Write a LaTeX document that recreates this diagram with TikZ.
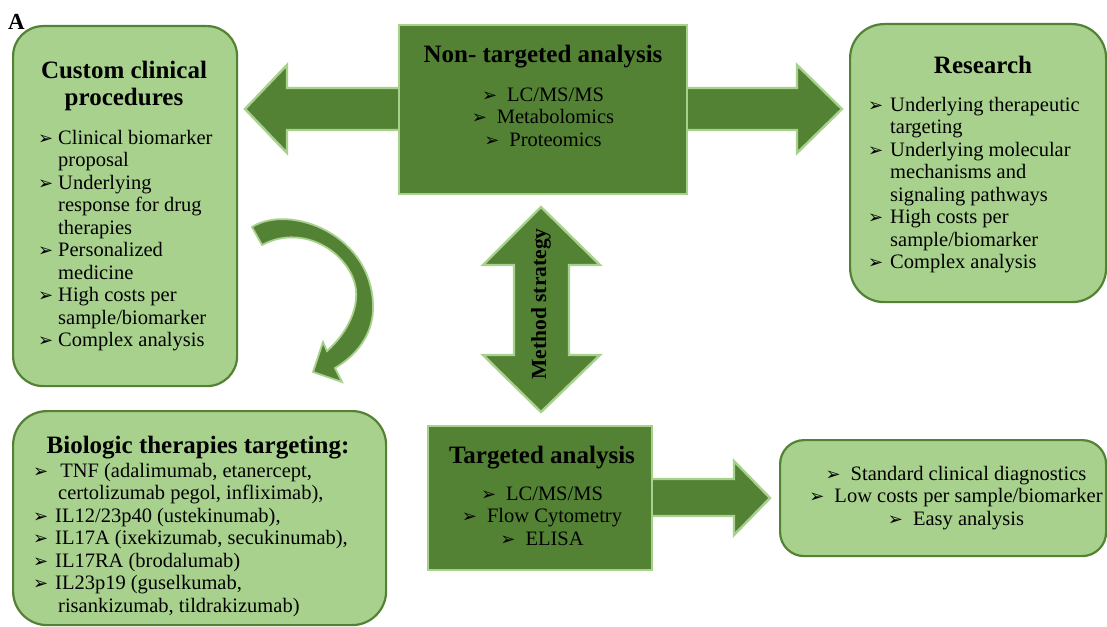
\documentclass[tikz,border=0pt]{standalone}
\usepackage{fontspec}
\setmainfont{Liberation Serif}
\newfontfamily\dejavu{DejaVu Sans}
\definecolor{lightg}{HTML}{A9D18E}
\definecolor{darkg}{HTML}{548235}
\newcommand\bul{{\dejavu\fontsize{18}{18}\selectfont ➢}}
\newcommand\bb[1]{\makebox[#1][l]{\bul}}
\tikzset{
  lightbox/.style={fill=lightg, draw=darkg, line width=2.2pt, rounded corners=30pt, inner sep=0pt, anchor=north west},
  darkbox/.style={fill=darkg, draw=lightg, line width=2.4pt, inner sep=0pt, anchor=north west},
  blockarrow/.style={fill=darkg, draw=lightg, line width=2.4pt, line join=miter},
  ttl/.style={font=\fontsize{25}{28}\selectfont\bfseries, inner sep=0pt, anchor=base},
  body/.style={font=\fontsize{20.5}{22.5}\selectfont, inner sep=0pt},
}
\begin{document}
\begin{tikzpicture}[x=1pt,y=-1pt]
\useasboundingbox (0,0) rectangle (1107,626);
\clip (0,0) rectangle (1107,626);
\fill[white] (0,0) rectangle (1107,626);

% block arrows behind boxes
\draw[blockarrow] (245,109) -- (287,65) -- (287,88) -- (797,88) -- (797,65) -- (842,109)
  -- (797,153) -- (797,130) -- (287,130) -- (287,153) -- cycle;
\draw[blockarrow] (640,479) -- (734,479) -- (734,461) -- (770,498) -- (734,535) -- (734,516) -- (640,516) -- cycle;

% boxes
\node[lightbox, minimum width=224pt, minimum height=360pt] (ccbox) at (12,25) {};
\node[darkbox, minimum width=288pt, minimum height=169pt] (ntbox) at (398,24) {};
\node[lightbox, minimum width=256pt, minimum height=278pt, rounded corners=34pt] (rsbox) at (849,23) {};
\node[lightbox, minimum width=373pt, minimum height=214pt, rounded corners=34pt] (bibox) at (12,410) {};
\node[darkbox, minimum width=224pt, minimum height=144pt] (tabox) at (427,425) {};
\node[lightbox, minimum width=326pt, minimum height=116pt, rounded corners=24pt] (sdbox) at (779,439) {};

% vertical double arrow
\draw[blockarrow] (541,207) -- (600,265) -- (569,265) -- (569,355) -- (600,355) -- (541,412)
  -- (483,355) -- (514,355) -- (514,265) -- (483,265) -- cycle;

% curved arrow
\draw[blockarrow, line width=1.8pt] (252,227) .. controls (290,203) and (375,235) .. (373,310)
  .. controls (372,335) and (357,355) .. (335,368) -- (342,382) -- (313,372) -- (323,342) -- (327,351)
  .. controls (345,335) and (358,312) .. (356,290)
  .. controls (352,255) and (305,222) .. (262,245) -- cycle;

% texts
\node[font=\fontsize{23}{23}\selectfont\bfseries, inner sep=0pt, anchor=base west] (lblA) at (8,30) {A};

\node[ttl] (cct1) at (124,78) {Custom clinical};
\node[ttl] (cct2) at (124,105) {procedures};
\node[body, anchor=base west] (ccl) at (38,144) {\begin{tabular}[t]{@{}l@{}l@{}}
\bb{20pt} & Clinical biomarker\\
 & proposal\\
\bb{20pt} & Underlying\\
 & response for drug\\
 & therapies\\
\bb{20pt} & Personalized\\
 & medicine\\
\bb{20pt} & High costs per\\
 & sample/biomarker\\
\bb{20pt} & Complex analysis
\end{tabular}};

\node[ttl] (ntt) at (543,63) {Non- targeted analysis};
\node[body, anchor=base] (ntl) at (543,101) {\begin{tabular}[t]{@{}c@{}}
\bul\hspace{10pt}LC/MS/MS\\
\bul\hspace{10pt}Metabolomics\\
\bul\hspace{10pt}Proteomics
\end{tabular}};

\node[ttl] (rst) at (983,74) {Research};
\node[body, anchor=base west] (rsl) at (868,111) {\begin{tabular}[t]{@{}l@{}l@{}}
\bb{22pt} & Underlying therapeutic\\
 & targeting\\
\bb{22pt} & Underlying molecular\\
 & mechanisms and\\
 & signaling pathways\\
\bb{22pt} & High costs per\\
 & sample/biomarker\\
\bb{22pt} & Complex analysis
\end{tabular}};

\node[font=\fontsize{21.5}{22}\selectfont\bfseries, rotate=90, inner sep=0pt] (ms) at (541,304) {Method strategy};

\node[ttl] (bit) at (198,453) {Biologic therapies targeting:};
\node[body, anchor=base west] (bil) at (33,477) {\begin{tabular}[t]{@{}l@{}l@{}}
\bb{22pt} & \ TNF (adalimumab, etanercept,\\
 & \hspace{3pt}certolizumab pegol, infliximab),\\
\bb{22pt} & IL12/23p40 (ustekinumab),\\
\bb{22pt} & IL17A (ixekizumab, secukinumab),\\
\bb{22pt} & IL17RA (brodalumab)\\
\bb{22pt} & IL23p19 (guselkumab,\\
 & \hspace{3pt}risankizumab, tildrakizumab)
\end{tabular}};

\node[ttl] (tat) at (542,463) {Targeted analysis};
\node[body, anchor=base] (tal) at (542,500) {\begin{tabular}[t]{@{}c@{}}
\bul\hspace{10pt}LC/MS/MS\\
\bul\hspace{10pt}Flow Cytometry\\
\bul\hspace{10pt}ELISA
\end{tabular}};

\node[body, anchor=base] (sdl) at (956,480) {\begin{tabular}[t]{@{}c@{}}
\bul\hspace{10pt}Standard clinical diagnostics\\
\bul\hspace{10pt}Low costs per sample/biomarker\\
\bul\hspace{10pt}Easy analysis
\end{tabular}};
\end{tikzpicture}
\end{document}
